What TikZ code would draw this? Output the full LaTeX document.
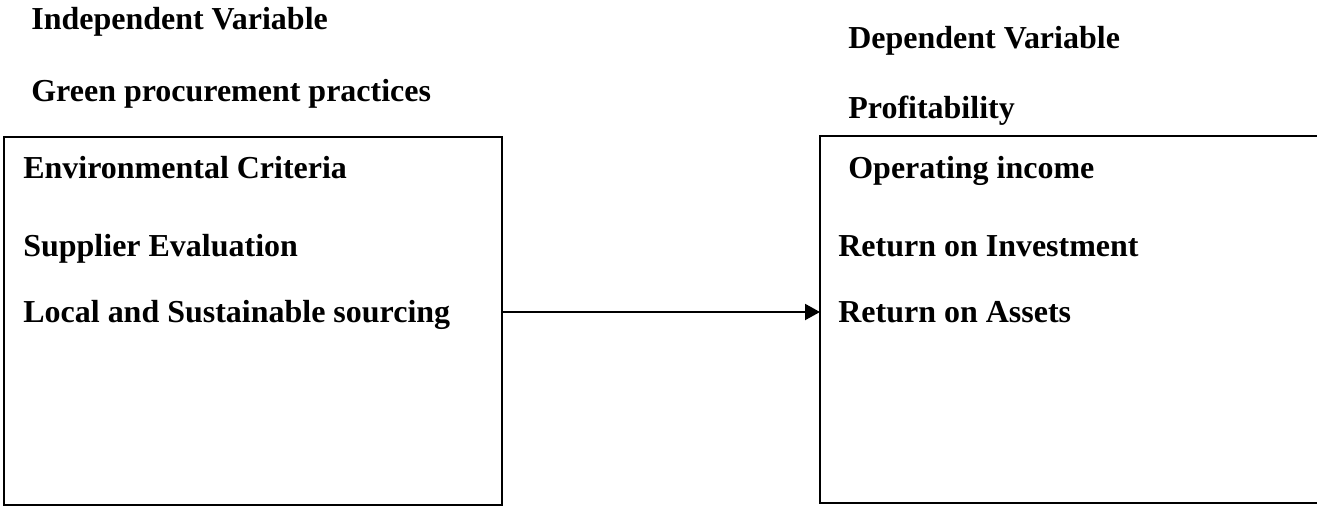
\documentclass[tikz,border=0pt]{standalone}
\usepackage{fontspec}
\setmainfont{Liberation Serif}
\usetikzlibrary{arrows.meta}
\tikzset{
  lbl/.style={anchor=base west,inner sep=0pt,font=\fontsize{18.2}{22}\selectfont\bfseries},
  frame/.style={line width=1.2pt}
}
\begin{document}
\begin{tikzpicture}
      \useasboundingbox (0,0) rectangle (26.34,-10.12);
      % left box
      \node[frame,draw,rectangle,minimum width=9.96cm,minimum height=7.36cm,inner sep=0pt] (leftbox) at (5.06,-6.42) {};
      \node[lbl] (indep) at (0.62,-0.58) {Independent Variable};
      \node[lbl] (green) at (0.62,-2.02) {Green procurement practices};
      \node[lbl] (envc) at (0.46,-3.56) {Environmental Criteria};
      \node[lbl] (suppl) at (0.46,-5.12) {Supplier Evaluation};
      \node[lbl] (local) at (0.46,-6.44) {Local and Sustainable sourcing};
      % right box, open at the page edge
      \draw[frame] (26.4,-2.72)--(16.4,-2.72)--(16.4,-10.06)--(26.4,-10.06);
      \coordinate (rightin) at (16.4,-6.24);
      \node[lbl] (dep) at (16.96,-0.96) {Dependent Variable};
      \node[lbl] (profit) at (16.96,-2.36) {Profitability};
      \node[lbl] (opinc) at (16.96,-3.56) {Operating income};
      \node[lbl] (roi) at (16.76,-5.12) {Return on Investment};
      \node[lbl] (roa) at (16.76,-6.44) {Return on Assets};
      \draw[frame,-{Triangle[length=0.3cm,width=0.32cm]}] (leftbox.east |- rightin) -- (rightin);
    \end{tikzpicture}
\end{document}
